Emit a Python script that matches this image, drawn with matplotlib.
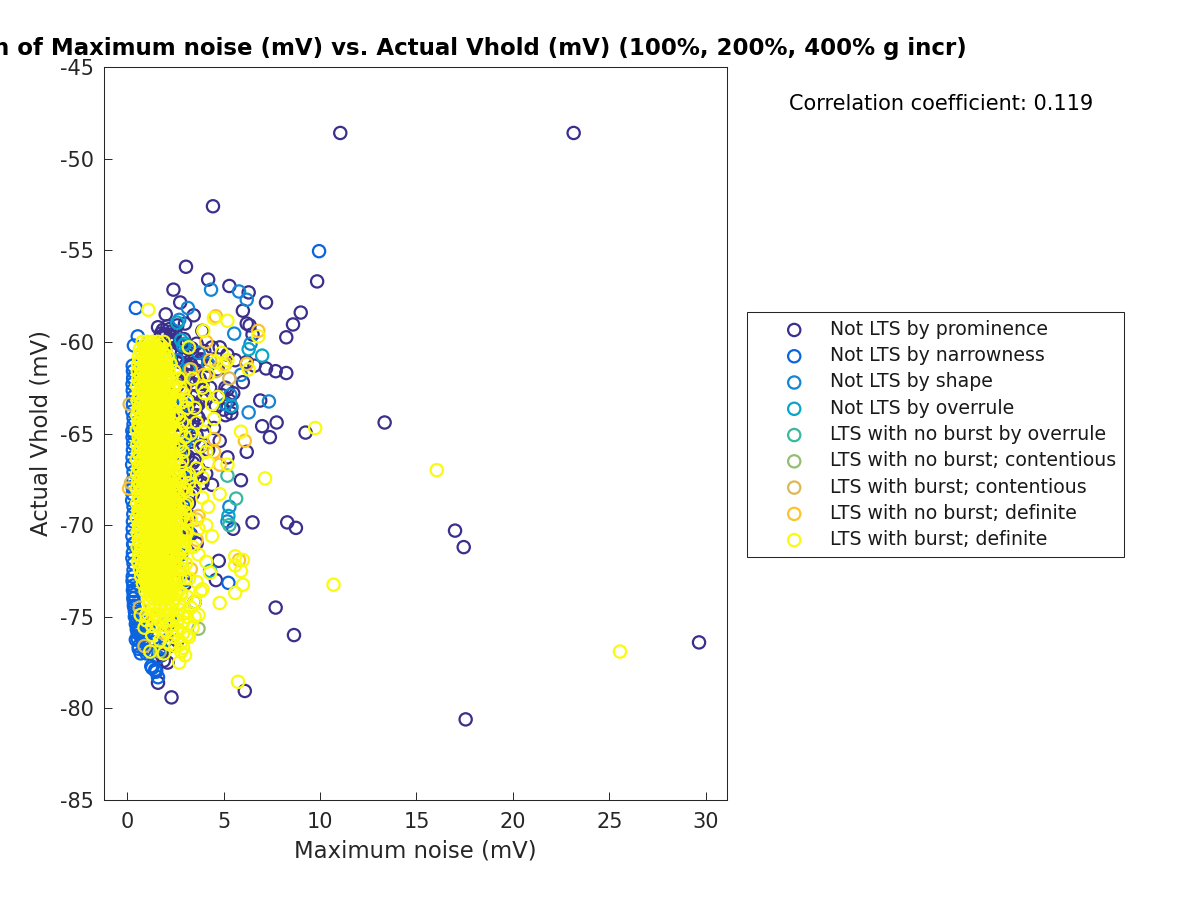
import matplotlib
matplotlib.use('Agg')
import matplotlib.pyplot as plt

# Values
labels = ['Not LTS by prominence', 'Not LTS by narrowness', 'Not LTS by shape',
          'Not LTS by overrule', 'LTS with no burst by overrule',
          'LTS with no burst; contentious', 'LTS with burst; contentious',
          'LTS with no burst; definite', 'LTS with burst; definite']
colors = ['#3a2f8c', '#0a64e0', '#1485d4', '#06a7c6', '#38b99e',
          '#92bf73', '#d9ba56', '#fdc32b', '#f9fb0e']

prom_x = [11.05, 23.15, 4.45, 3.05, 4.2, 9.85, 5.3, 2.4, 6.3, 2.75, 7.2, 6.0, 9.0, 3.45, 2.0, 8.6, 6.2, 6.35,
          8.25, 3.0, 2.6, 2.2, 1.9, 3.9, 6.5, 7.2, 7.7, 8.25, 6.2, 6.6, 13.35, 9.25, 7.75, 7.0, 7.4, 6.2,
          5.9, 17.0, 17.45, 8.3, 8.75, 6.5, 5.5, 4.75, 4.6, 3.5, 7.7, 8.65, 29.65, 6.1, 17.55, 2.3, 1.6, 1.9,
          2.5, 2.8, 3.2, 3.6, 4.0, 4.4, 4.8, 5.2, 5.6, 2.4, 2.9, 3.3, 3.8, 4.2, 4.7, 5.1, 5.5, 6.0, 2.7, 3.1,
          3.5, 3.9, 4.3, 4.9, 5.3, 2.6, 3.0, 3.4, 3.7, 4.1, 4.6, 5.0, 5.4, 6.9, 2.8, 3.2, 3.6, 4.0, 4.5,
          2.9, 3.3, 3.5, 3.8, 4.2, 5.2, 3.0, 3.4, 3.7, 4.1, 2.7, 3.1, 3.6, 3.9, 2.6, 3.0, 3.4, 3.2, 2.9,
          3.2, 2.8, 3.1, 3.3, 3.6, 2.5, 2.7, 3.0, 2.2, 1.8, 2.1, 1.5, 2.6, 5.2, 5.4, 5.1, 4.8, 4.4,
          1.6, 1.85, 2.1, 2.35, 1.75, 2.0, 2.25, 2.5, 2.15, 2.45, 2.7, 2.95, 2.6, 2.85, 3.1, 3.35, 2.75, 3.05,
          3.3, 3.6, 3.85, 2.9, 3.2, 3.45, 3.75, 4.05, 2.65, 2.95, 3.25, 3.55, 3.9, 2.8, 3.1, 3.4, 3.7, 2.7,
          3.0, 3.3, 3.6, 3.95, 2.85, 3.15, 3.5, 2.75, 3.05, 3.35, 2.9, 3.2]
prom_y = [-48.6, -48.6, -52.6, -55.9, -56.6, -56.7, -56.95, -57.15, -57.3, -57.85, -57.85, -58.3, -58.4, -58.55,
          -58.5, -59.05, -59.0, -59.1, -59.75, -59.0, -59.1, -59.3, -59.6, -59.4, -59.6, -61.45, -61.6, -61.7,
          -61.1, -61.3, -64.4, -64.95, -64.4, -64.6, -65.2, -66.0, -67.55, -70.3, -71.2, -69.85, -70.15, -69.85,
          -70.2, -71.95, -73.0, -74.2, -74.5, -76.0, -76.4, -79.05, -80.6, -79.4, -78.6, -77.4,
          -59.9, -60.2, -60.4, -60.1, -60.5, -60.3, -60.3, -60.7, -61.0, -60.6, -60.9, -61.2, -61.0, -61.3,
          -61.5, -62.5, -62.8, -62.2, -61.6, -61.8, -62.0, -62.3, -62.5, -62.9, -63.2, -62.4, -62.7, -63.0,
          -63.4, -63.1, -63.5, -63.7, -63.9, -63.2, -63.8, -64.2, -64.0, -64.5, -64.7, -64.6, -65.0, -65.3,
          -65.7, -65.9, -66.3, -66.2, -66.6, -66.9, -67.2, -66.0, -67.0, -67.4, -67.7, -67.3, -67.9, -68.3,
          -68.8, -69.2, -69.5, -69.9, -70.1, -70.5, -71.0, -71.6, -72.5, -73.2, -76.6, -77.1, -77.5, -77.9,
          -76.3, -62.6, -63.6, -64.0, -65.4, -67.8,
          -59.2, -59.35, -59.15, -59.4, -59.55, -59.6, -59.7, -59.5, -59.95, -60.0, -60.15, -59.85, -60.45, -60.55,
          -60.7, -60.35, -61.1, -61.25, -61.4, -61.15, -60.95, -62.05, -62.15, -62.3, -62.0, -61.85, -63.3, -63.45,
          -63.25, -63.6, -63.15, -64.3, -64.45, -64.35, -64.15, -65.15, -65.3, -65.45, -65.1, -65.6, -66.1, -66.25,
          -66.45, -67.05, -67.2, -67.5, -68.1, -68.4]

narrow_x = [9.95, 0.45, 0.55, 0.35, 5.25, 1.3, 1.5, 1.6, 1.25, 1.45, 0.55, 0.6, 0.9, 1.1, 0.7, 1.4, 1.0, 1.9, 2.3,
            0.3, 0.28, 0.32, 0.27, 0.33, 0.28, 0.3, 0.26, 0.32, 0.28, 0.33, 0.3, 0.27, 0.3, 0.33, 0.29, 0.32, 0.34,
            0.35, 0.35, 0.4, 0.4, 0.45, 0.5, 0.55, 0.75, 0.9, 1.1, 1.3, 1.6, 1.75, 2.0, 2.4, 3.0, 3.3, 2.7, 3.1,
            2.9, 3.2, 2.8, 3.0,
            0.32, 0.29, 0.3, 0.33, 0.27, 0.31, 0.28, 0.33, 0.3, 0.26, 0.32, 0.29, 0.31, 0.27, 0.33, 0.28, 0.3, 0.32,
            0.29, 0.31, 0.33, 0.3, 0.34, 0.36, 0.38, 0.42, 0.48, 0.55, 0.62, 0.72, 0.84, 0.6, 0.45, 0.7, 0.85, 1.0]
narrow_y = [-55.05, -58.15, -59.7, -60.2, -73.15, -77.8, -78.0, -78.3, -77.7, -77.9, -76.2, -76.6, -76.8, -75.6,
            -75.2, -76.4, -75.9, -75.4, -75.3,
            -61.6, -62.3, -63.0, -63.8, -64.5, -65.2, -65.9, -66.7, -67.5, -68.3, -69.0, -69.8, -70.6, -71.5,
            -72.1, -72.8, -73.3, -73.8, -74.2, -74.4, -74.7, -75.0, -75.4, -75.7, -75.9, -76.0, -76.2, -76.5,
            -76.9, -77.2, -76.7, -76.3, -62.9, -63.4, -65.1, -66.1, -67.5, -68.9, -70.4, -71.6, -73.0,
            -61.95, -62.65, -63.4, -64.15, -64.85, -65.55, -66.3, -67.1, -67.9, -68.65, -69.4, -70.2, -71.05, -71.8,
            -72.45, -73.05, -73.55, -74.0, -61.3, -62.0, -65.0, -68.0, -71.0, -73.6, -74.5, -74.85, -75.2, -75.5,
            -75.8, -76.1, -76.35, -76.75, -76.25, -77.0, -76.6, -77.0]

shape_x = [4.35, 5.8, 6.2, 3.15, 2.7, 5.55, 6.4, 2.9, 7.35, 6.3, 5.3, 5.1, 5.35, 3.7, 4.2, 5.9, 2.6, 2.4, 5.2, 3.0]
shape_y = [-57.15, -57.25, -57.7, -58.15, -58.8, -59.55, -60.1, -60.2, -63.25, -63.85, -69.0, -63.4, -62.9, -60.6,
           -61.2, -61.8, -61.0, -63.0, -69.8, -65.5]

over_x = [2.6, 3.0, 7.0, 6.3, 5.25, 2.8, 3.2, 5.4, 4.3]
over_y = [-58.95, -60.1, -60.75, -60.4, -69.5, -59.9, -61.5, -63.5, -72.5]

nbo_x = [5.65, 5.2, 5.3, 2.2, 2.6]
nbo_y = [-68.55, -67.3, -70.0, -60.9, -73.0]

nbc_x = [3.7, 1.7, 2.9]
nbc_y = [-75.65, -76.9, -62.0]

bc_x = [0.13, 0.2, 0.65, 0.9, 4.6, 5.3]
bc_y = [-63.4, -67.7, -74.5, -76.6, -61.6, -62.0]

nbd_x = [6.8, 4.1, 5.1, 4.0, 6.2, 6.1, 4.5, 4.5, 5.8, 4.6, 4.3, 3.3, 3.0, 4.8, 2.9, 2.6, 1.4, 0.1, 3.7, 3.6, 3.3,
         1.9, 3.6]
nbd_y = [-59.4, -60.0, -61.2, -61.8, -61.2, -65.4, -65.3, -66.0, -71.9, -58.6, -61.0, -61.5, -62.5, -66.7, -70.5,
         -68.2, -75.1, -68.0, -69.5, -70.8, -72.4, -75.9, -69.7]

def_x = [25.55, 16.05, 10.7, 9.75, 7.15, 5.75, 2.7, 1.1, 2.9, 3.1, 4.8, 5.6, 6.0, 5.6, 5.6, 5.9, 6.0, 4.8, 4.5, 5.9,
         5.2, 4.5, 3.95, 5.2, 6.8, 5.2, 4.9, 4.2, 5.0, 3.2, 4.6, 6.3, 3.9, 3.4, 4.0, 3.1, 3.5, 4.4, 4.7, 3.6, 4.0,
         3.3, 3.8, 4.1, 4.2, 3.6, 3.9, 3.2, 3.5, 3.9, 4.2, 3.0, 3.3, 3.7, 4.1, 4.4, 3.0, 3.4, 3.7, 4.1, 4.3, 2.9,
         3.2, 3.6, 3.9, 2.8, 3.1, 3.5, 3.8, 2.7, 3.0, 3.3, 3.7, 2.9, 3.2, 3.5, 2.6, 2.9, 3.2, 3.4, 2.8, 3.1, 2.5,
         2.8, 3.0, 1.6, 2.0, 2.4, 1.3, 1.7, 2.2, 1.0, 0.7, 1.9, 1.2, 2.6, 0.9, 2.3]
def_y = [-76.9, -67.0, -73.25, -64.7, -67.45, -78.55, -77.5, -58.25, -76.7, -75.0, -74.25, -73.7, -73.25, -71.7,
         -72.2, -72.5, -71.9, -68.3, -64.2, -64.9, -58.85, -58.7, -59.4, -61.0, -59.7, -66.7, -60.6, -61.8, -61.3,
         -60.3, -61.1, -61.5, -62.5, -62.0, -62.8, -63.2, -63.6, -63.4, -63.0, -64.4, -64.9, -65.0, -65.7, -66.0,
         -66.6, -66.9, -67.4, -67.7, -68.0, -68.5, -69.0, -69.3, -69.7, -70.2, -70.0, -70.6, -70.9, -71.2, -71.6,
         -72.0, -72.6, -72.4, -72.9, -73.1, -73.5, -73.8, -73.9, -74.2, -73.6, -74.6, -74.8, -74.5, -74.9, -75.3,
         -75.4, -75.0, -75.7, -75.9, -76.1, -75.6, -76.4, -76.0, -76.6, -76.9, -77.1, -75.5, -75.8, -76.1, -76.0,
         -76.3, -76.5, -75.2, -74.9, -77.0, -76.9, -75.2, -75.6, -75.8]

# dense yellow cloud, one list of x values per y row
cloud_y = [-60.0, -60.4, -60.8, -61.2, -61.6, -62.0, -62.4, -62.8, -63.2, -63.6, -64.0, -64.4, -64.8,
           -65.2, -65.6, -66.0, -66.4, -66.8, -67.2, -67.6, -68.0, -68.4, -68.8, -69.2, -69.6, -70.0,
           -70.4, -70.8, -71.2, -71.6, -72.0, -72.4, -72.8, -73.2, -73.6, -74.0]
cloud_x = [
    [0.8, 1.05, 1.3, 1.6, 1.9],
    [0.66, 0.9, 1.12, 1.4, 1.7, 1.98],
    [0.6, 0.86, 1.05, 1.25, 1.55, 1.8, 2.1],
    [0.57, 0.88, 1.15, 1.42, 1.72, 2.0, 2.25],
    [0.55, 0.8, 1.05, 1.33, 1.6, 1.9, 2.15, 2.45],
    [0.58, 0.86, 1.12, 1.44, 1.72, 2.02, 2.3, 2.7],
    [0.52, 0.78, 1.03, 1.3, 1.58, 1.85, 2.12, 2.5],
    [0.6, 0.88, 1.16, 1.46, 1.74, 2.0, 2.3, 2.9],
    [0.54, 0.8, 1.06, 1.34, 1.62, 1.9, 2.18, 2.6],
    [0.6, 0.86, 1.14, 1.42, 1.7, 1.98, 2.28, 3.1],
    [0.52, 0.78, 1.05, 1.32, 1.6, 1.88, 2.15, 2.55],
    [0.58, 0.88, 1.15, 1.44, 1.72, 2.02, 2.32, 2.85],
    [0.5, 0.76, 1.03, 1.3, 1.58, 1.86, 2.14, 2.5],
    [0.6, 0.86, 1.14, 1.42, 1.7, 2.0, 2.3, 3.0],
    [0.53, 0.8, 1.06, 1.34, 1.62, 1.9, 2.2, 2.65],
    [0.58, 0.86, 1.14, 1.44, 1.72, 2.0, 2.34, 2.9],
    [0.5, 0.78, 1.04, 1.3, 1.58, 1.88, 2.16, 2.55],
    [0.6, 0.86, 1.14, 1.42, 1.7, 2.0, 2.3, 2.75],
    [0.52, 0.8, 1.06, 1.34, 1.62, 1.9, 2.2, 2.5, 3.2],
    [0.58, 0.88, 1.14, 1.44, 1.72, 2.02, 2.32, 2.7],
    [0.5, 0.76, 1.04, 1.32, 1.6, 1.88, 2.16, 2.5, 2.95],
    [0.6, 0.86, 1.14, 1.42, 1.7, 2.0, 2.3, 2.65],
    [0.52, 0.8, 1.06, 1.34, 1.62, 1.9, 2.2, 2.5, 3.1],
    [0.58, 0.86, 1.14, 1.44, 1.74, 2.02, 2.34, 2.7],
    [0.5, 0.78, 1.04, 1.32, 1.6, 1.88, 2.16, 2.46, 2.85],
    [0.6, 0.88, 1.14, 1.42, 1.7, 2.0, 2.3, 2.6],
    [0.54, 0.8, 1.06, 1.34, 1.62, 1.9, 2.2, 2.5, 3.0],
    [0.6, 0.86, 1.16, 1.44, 1.72, 2.02, 2.32, 2.7],
    [0.54, 0.8, 1.06, 1.32, 1.6, 1.88, 2.16, 2.46, 2.9],
    [0.62, 0.88, 1.14, 1.42, 1.7, 2.0, 2.3, 2.6],
    [0.56, 0.82, 1.08, 1.34, 1.62, 1.9, 2.2, 2.5, 2.8],
    [0.66, 0.9, 1.16, 1.44, 1.72, 2.02, 2.32, 2.65],
    [0.72, 0.96, 1.22, 1.5, 1.78, 2.06, 2.36],
    [0.82, 1.06, 1.32, 1.6, 1.88, 2.16, 2.5],
    [0.95, 1.2, 1.46, 1.74, 2.0, 2.3, 2.65],
    [1.1, 1.35, 1.6, 1.88, 2.15, 2.45],
]

# in-between rows, they close the holes left by the rings above
cloud2_y = [-60.2, -60.6, -61.0, -61.4, -61.8, -62.2, -62.6, -63.0, -63.4, -63.8, -64.2, -64.6, -65.0,
            -65.4, -65.8, -66.2, -66.6, -67.0, -67.4, -67.8, -68.2, -68.6, -69.0, -69.4, -69.8, -70.2,
            -70.6, -71.0, -71.4, -71.8, -72.2, -72.6, -73.0, -73.4, -73.8]
cloud2_x = [
    [0.9, 1.18, 1.46, 1.76],
    [0.74, 1.0, 1.28, 1.56, 1.86],
    [0.7, 0.98, 1.3, 1.6, 1.9, 2.0],
    [0.68, 0.94, 1.22, 1.5, 1.8, 2.06],
    [0.7, 0.96, 1.24, 1.52, 1.8, 2.08],
    [0.66, 0.92, 1.2, 1.48, 1.76, 2.04],
    [0.72, 1.0, 1.28, 1.56, 1.84, 2.12],
    [0.66, 0.94, 1.22, 1.5, 1.78, 2.06],
    [0.72, 1.0, 1.28, 1.56, 1.84, 2.14],
    [0.66, 0.92, 1.2, 1.48, 1.76, 2.04],
    [0.72, 1.0, 1.28, 1.56, 1.84, 2.12],
    [0.64, 0.92, 1.18, 1.46, 1.74, 2.02],
    [0.72, 1.0, 1.28, 1.56, 1.84, 2.14],
    [0.66, 0.92, 1.2, 1.48, 1.76, 2.04],
    [0.72, 1.0, 1.28, 1.56, 1.84, 2.12],
    [0.64, 0.92, 1.2, 1.48, 1.76, 2.06],
    [0.72, 1.0, 1.28, 1.56, 1.84, 2.14],
    [0.66, 0.94, 1.2, 1.48, 1.76, 2.04],
    [0.72, 1.0, 1.28, 1.56, 1.84, 2.14],
    [0.64, 0.92, 1.2, 1.48, 1.76, 2.06, 2.4],
    [0.72, 1.0, 1.28, 1.56, 1.84, 2.14],
    [0.66, 0.94, 1.2, 1.48, 1.76, 2.06, 2.4],
    [0.72, 1.0, 1.28, 1.56, 1.84, 2.14],
    [0.64, 0.92, 1.2, 1.48, 1.76, 2.06, 2.38],
    [0.72, 1.0, 1.28, 1.56, 1.84, 2.14],
    [0.66, 0.94, 1.2, 1.48, 1.76, 2.06, 2.36],
    [0.72, 1.0, 1.28, 1.56, 1.84, 2.14],
    [0.66, 0.94, 1.2, 1.48, 1.76, 2.06, 2.36],
    [0.72, 1.0, 1.28, 1.56, 1.84, 2.14],
    [0.7, 0.96, 1.22, 1.48, 1.76, 2.06, 2.34],
    [0.76, 1.02, 1.28, 1.56, 1.84, 2.14],
    [0.82, 1.08, 1.34, 1.62, 1.9, 2.2],
    [0.92, 1.18, 1.44, 1.72, 2.0, 2.28],
    [1.04, 1.3, 1.58, 1.86, 2.14, 2.4],
    [1.2, 1.48, 1.76, 2.04, 2.3],
]

# right fringe and the tapered bottom of the cloud
cloud3_y = [-62.5, -63.3, -64.1, -64.9, -65.7, -66.5, -67.3, -68.1, -68.9, -69.7, -70.5, -71.3, -72.1, -72.9,
            -73.7, -74.3, -74.6, -74.9, -75.2, -75.5]
cloud3_x = [
    [2.4, 2.75],
    [2.45, 2.8],
    [2.4, 2.7],
    [2.45, 2.8],
    [2.4, 2.75],
    [2.45, 2.85],
    [2.4, 2.7, 3.0],
    [2.45, 2.8, 3.05],
    [2.4, 2.7, 3.0],
    [2.45, 2.75, 3.1],
    [2.5, 2.8, 3.05],
    [2.45, 2.75, 3.0],
    [2.5, 2.8, 3.05],
    [2.45, 2.75, 3.0],
    [2.5, 2.8],
    [1.15, 1.45, 1.75, 2.05, 2.35, 2.7],
    [1.35, 1.65, 1.95, 2.25],
    [1.0, 1.5, 1.85, 2.15, 2.6],
    [1.7, 2.0, 2.35],
    [1.3, 2.2],
]

series_x = [prom_x, narrow_x, shape_x, over_x, nbo_x, nbc_x, bc_x, nbd_x, def_x]
series_y = [prom_y, narrow_y, shape_y, over_y, nbo_y, nbc_y, bc_y, nbd_y, def_y]

# add the cloud rows to the last series
for y, xs in zip(cloud_y + cloud2_y + cloud3_y, cloud_x + cloud2_x + cloud3_x):
    for x in xs:
        def_x.append(x)
        def_y.append(y)

fig = plt.figure(figsize=(12, 9), dpi=100)
ax = fig.add_axes([104 / 1200, 1 - 800 / 900, (727 - 104) / 1200, (800 - 67) / 900])

for i in range(len(labels)):
    ax.scatter(series_x[i], series_y[i], s=78, facecolors='none', edgecolors=colors[i],
               linewidths=1.6, label=labels[i], clip_on=True)

ax.set_xlim(-1.2, 31.1)
ax.set_ylim(-85, -45)
ax.set_xticks([0, 5, 10, 15, 20, 25, 30])
ax.set_yticks(range(-85, -44, 5))
ax.set_yticklabels([str(v) for v in range(-85, -44, 5)])
ax.tick_params(direction='in', length=5.8, width=0.7, labelsize=15, colors='#262626')
ax.tick_params(axis='x', pad=8.5)
ax.tick_params(axis='y', pad=7)
for s in ax.spines.values():
    s.set_linewidth(0.75)
    s.set_color('#262626')

ax.set_xlabel('Maximum noise (mV)', fontsize=16.4, color='#262626', labelpad=5.5)
ax.set_ylabel('Actual Vhold (mV)', fontsize=16.4, color='#262626', labelpad=5.5)
ax.set_title('Correlation of Maximum noise (mV) vs. Actual Vhold (mV) (100%, 200%, 400% g incr)',
             fontsize=16.5, fontweight='bold', color='black', pad=9)

fig.text(941 / 1200, 1 - 104.5 / 900, 'Correlation coefficient: 0.119', fontsize=15,
         ha='center', va='center', color='black')

leg = ax.legend(loc='upper left', bbox_to_anchor=(747 / 1200, 1 - 312 / 900),
                bbox_transform=fig.transFigure, fontsize=13.6, frameon=True, fancybox=False,
                framealpha=1, edgecolor='#262626', scatterpoints=1, borderaxespad=0,
                labelspacing=0.385, borderpad=0.42, handlelength=4.16, handletextpad=-0.17)
leg.get_frame().set_linewidth(0.75)
for t in leg.get_texts():
    t.set_color('#1a1a1a')

fig.savefig('out.png', dpi=100)
